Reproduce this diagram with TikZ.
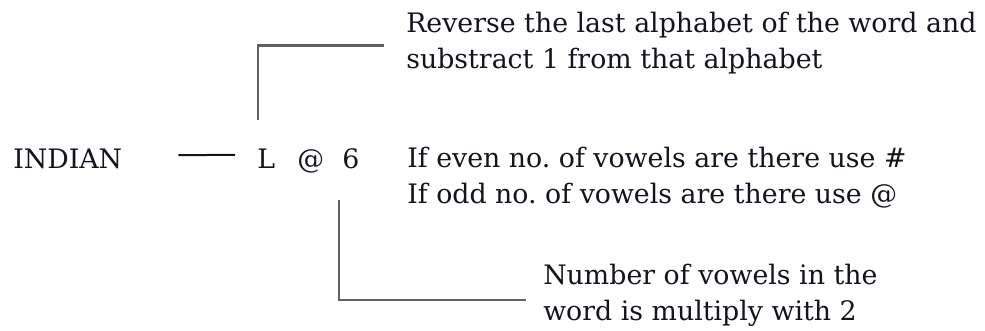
\documentclass[tikz,border=0pt]{standalone}
\usepackage{fontspec}
\setmainfont{DejaVu Serif}
\usepackage{xcolor}
\usepackage{tikz}
\usetikzlibrary{positioning, calc}
\definecolor{tinta}{HTML}{14141E}
\definecolor{grafite}{HTML}{606060}
\frenchspacing
\tikzset{
  rotulo/.style={inner sep=0pt, anchor=base west, text=tinta, font=\fontsize{20.1}{27}\selectfont},
  nota/.style={rotulo, align=left},
  guia/.style={draw=grafite, line width=2pt},
}

\begin{document}
\begin{tikzpicture}[x=0.75pt, y=-0.75pt]
    \useasboundingbox (0,0) rectangle (985,330);
    \node[rotulo] (indian) at (13,168) {INDIAN};
    \node[rotulo] (letra)  at (257,168) {L};
    \node[rotulo] (arroba) at (297,168) {@};
    \node[rotulo] (seis)   at (342,168) {6};
    % base of a two-line note is its last line
    \node[nota] (reverso) at (406,68.5) {Reverse the last alphabet of the word and\\substract 1 from that alphabet};
    \node[nota] (paridade) at (407,203.5) {If even no. of vowels are there use \#\\If odd no. of vowels are there use @};
    \node[nota] (dobro) at (543,320) {Number of vowels in the\\word is multiply with 2};
    \coordinate (topo) at (258,120);
    \coordinate (base) at (339,200);
    \draw[tinta, line width=1.5pt] ([xshift=42pt, yshift=2.5pt]indian.east) -- ([xshift=-16.5pt, yshift=2.5pt]letra.west);
    \draw[guia] (topo) |- ([xshift=-16.5pt, yshift=-2pt]reverso.west);
    \draw[guia] (base) |- ([xshift=-12.75pt, yshift=-4pt]dobro.west);
\end{tikzpicture}
\end{document}
